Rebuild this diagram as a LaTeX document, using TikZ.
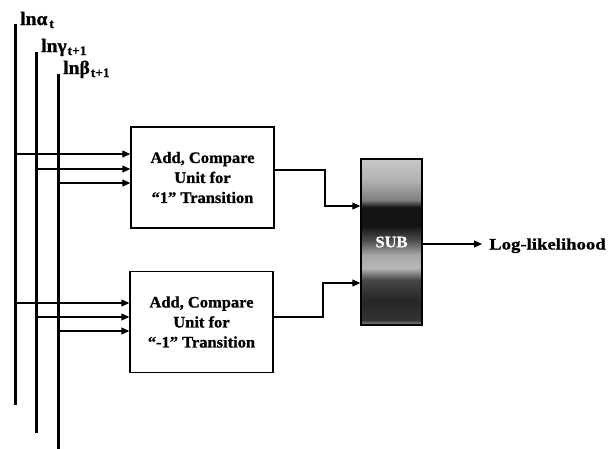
\documentclass[tikz,border=0pt]{standalone}
\usepackage{fontspec}
\setmainfont{Liberation Serif}[FakeStretch=1.03,FakeBold=1]
\newfontfamily\loglik{Liberation Serif}[FakeStretch=1.17,FakeBold=1]
\usetikzlibrary{arrows.meta}
\pgfdeclareverticalshading{subshade}{100bp}{color(0bp)=(black!40); color(25bp)=(black!40); color(26.5bp)=(black!80); color(32.5bp)=(black!85); color(38.6bp)=(black!72); color(42.2bp)=(black!28); color(46.1bp)=(black!35); color(50.6bp)=(black!70); color(54.8bp)=(black!92); color(60.5bp)=(black!92); color(62.7bp)=(black!50); color(68.7bp)=(black!30); color(75bp)=(black!22); color(100bp)=(black!22)}
\begin{document}
\begin{tikzpicture}[x=1pt,y=-1pt,
  vline/.style={line width=3pt},
  arr/.style={line width=1.2pt,-{Triangle[length=8pt,width=7pt]}},
  acsbox/.style={draw,line width=1.4pt,minimum width=143pt,minimum height=101pt,inner sep=0pt,align=center,font=\bfseries\fontsize{16}{20}\selectfont},
  subbox/.style={draw,line width=1.4pt,shade,shading=subshade,minimum width=61pt,minimum height=166pt,inner sep=0pt,text=white,font=\bfseries\fontsize{16}{18}\selectfont},
  lbl/.style={anchor=base west,inner sep=0pt,font=\bfseries\fontsize{19}{19}\selectfont}]
\useasboundingbox (0,0) rectangle (610,448);
% vertical lines
\coordinate (aT) at (15,24);  \coordinate (aB) at (15,405);
\coordinate (gT) at (36,52);  \coordinate (gB) at (36,433);
\coordinate (bT) at (58,74);  \coordinate (bB) at (58,450);
\draw[vline] (aT) -- (aB);
\draw[vline] (gT) -- (gB);
\draw[vline] (bT) -- (bB);
\node[lbl] (la) at (20,25) {lnα\hspace{2pt}\raisebox{-3pt}{\fontsize{13}{13}\selectfont t}};
\node[lbl] (lg) at (41,52) {lnγ\hspace{1pt}\raisebox{-3pt}{\fontsize{13}{13}\selectfont t+1}};
\node[lbl] (lb) at (63,74) {lnβ\hspace{1pt}\raisebox{-3pt}{\fontsize{13}{13}\selectfont t+1}};
% boxes
\node[acsbox] (top) at (202.5,177.5) {Add, Compare\\Unit for\\“1” Transition};
\node[acsbox] (bot) at (201.5,322) {Add, Compare\\Unit for\\“-1” Transition};
\node[subbox] (sub) at (391.5,242) {SUB};
% input arrows
\coordinate (s1) at (16,154);  \coordinate (s2) at (37,169);  \coordinate (s3) at (59,183);
\coordinate (s4) at (16,303);  \coordinate (s5) at (37,317);  \coordinate (s6) at (59,331);
\draw[arr] (s1) -- (s1 -| top.west);
\draw[arr] (s2) -- (s2 -| top.west);
\draw[arr] (s3) -- (s3 -| top.west);
\draw[arr] (s4) -- (s4 -| bot.west);
\draw[arr] (s5) -- (s5 -| bot.west);
\draw[arr] (s6) -- (s6 -| bot.west);
% outputs
\draw[arr] (top.east |- 0,170) -- (325,170) |- (sub.west |- 0,206);
\draw[arr] (bot.east |- 0,317) -- (323,317) |- (sub.west |- 0,283);
\node[anchor=base west,inner sep=0pt,font=\loglik\bfseries\fontsize{16}{16}\selectfont] (ll) at (489,249.5) {Log-likelihood};
\coordinate (llin) at (482,244);
\draw[arr] (sub.east |- llin) -- (llin);
\end{tikzpicture}
\end{document}
